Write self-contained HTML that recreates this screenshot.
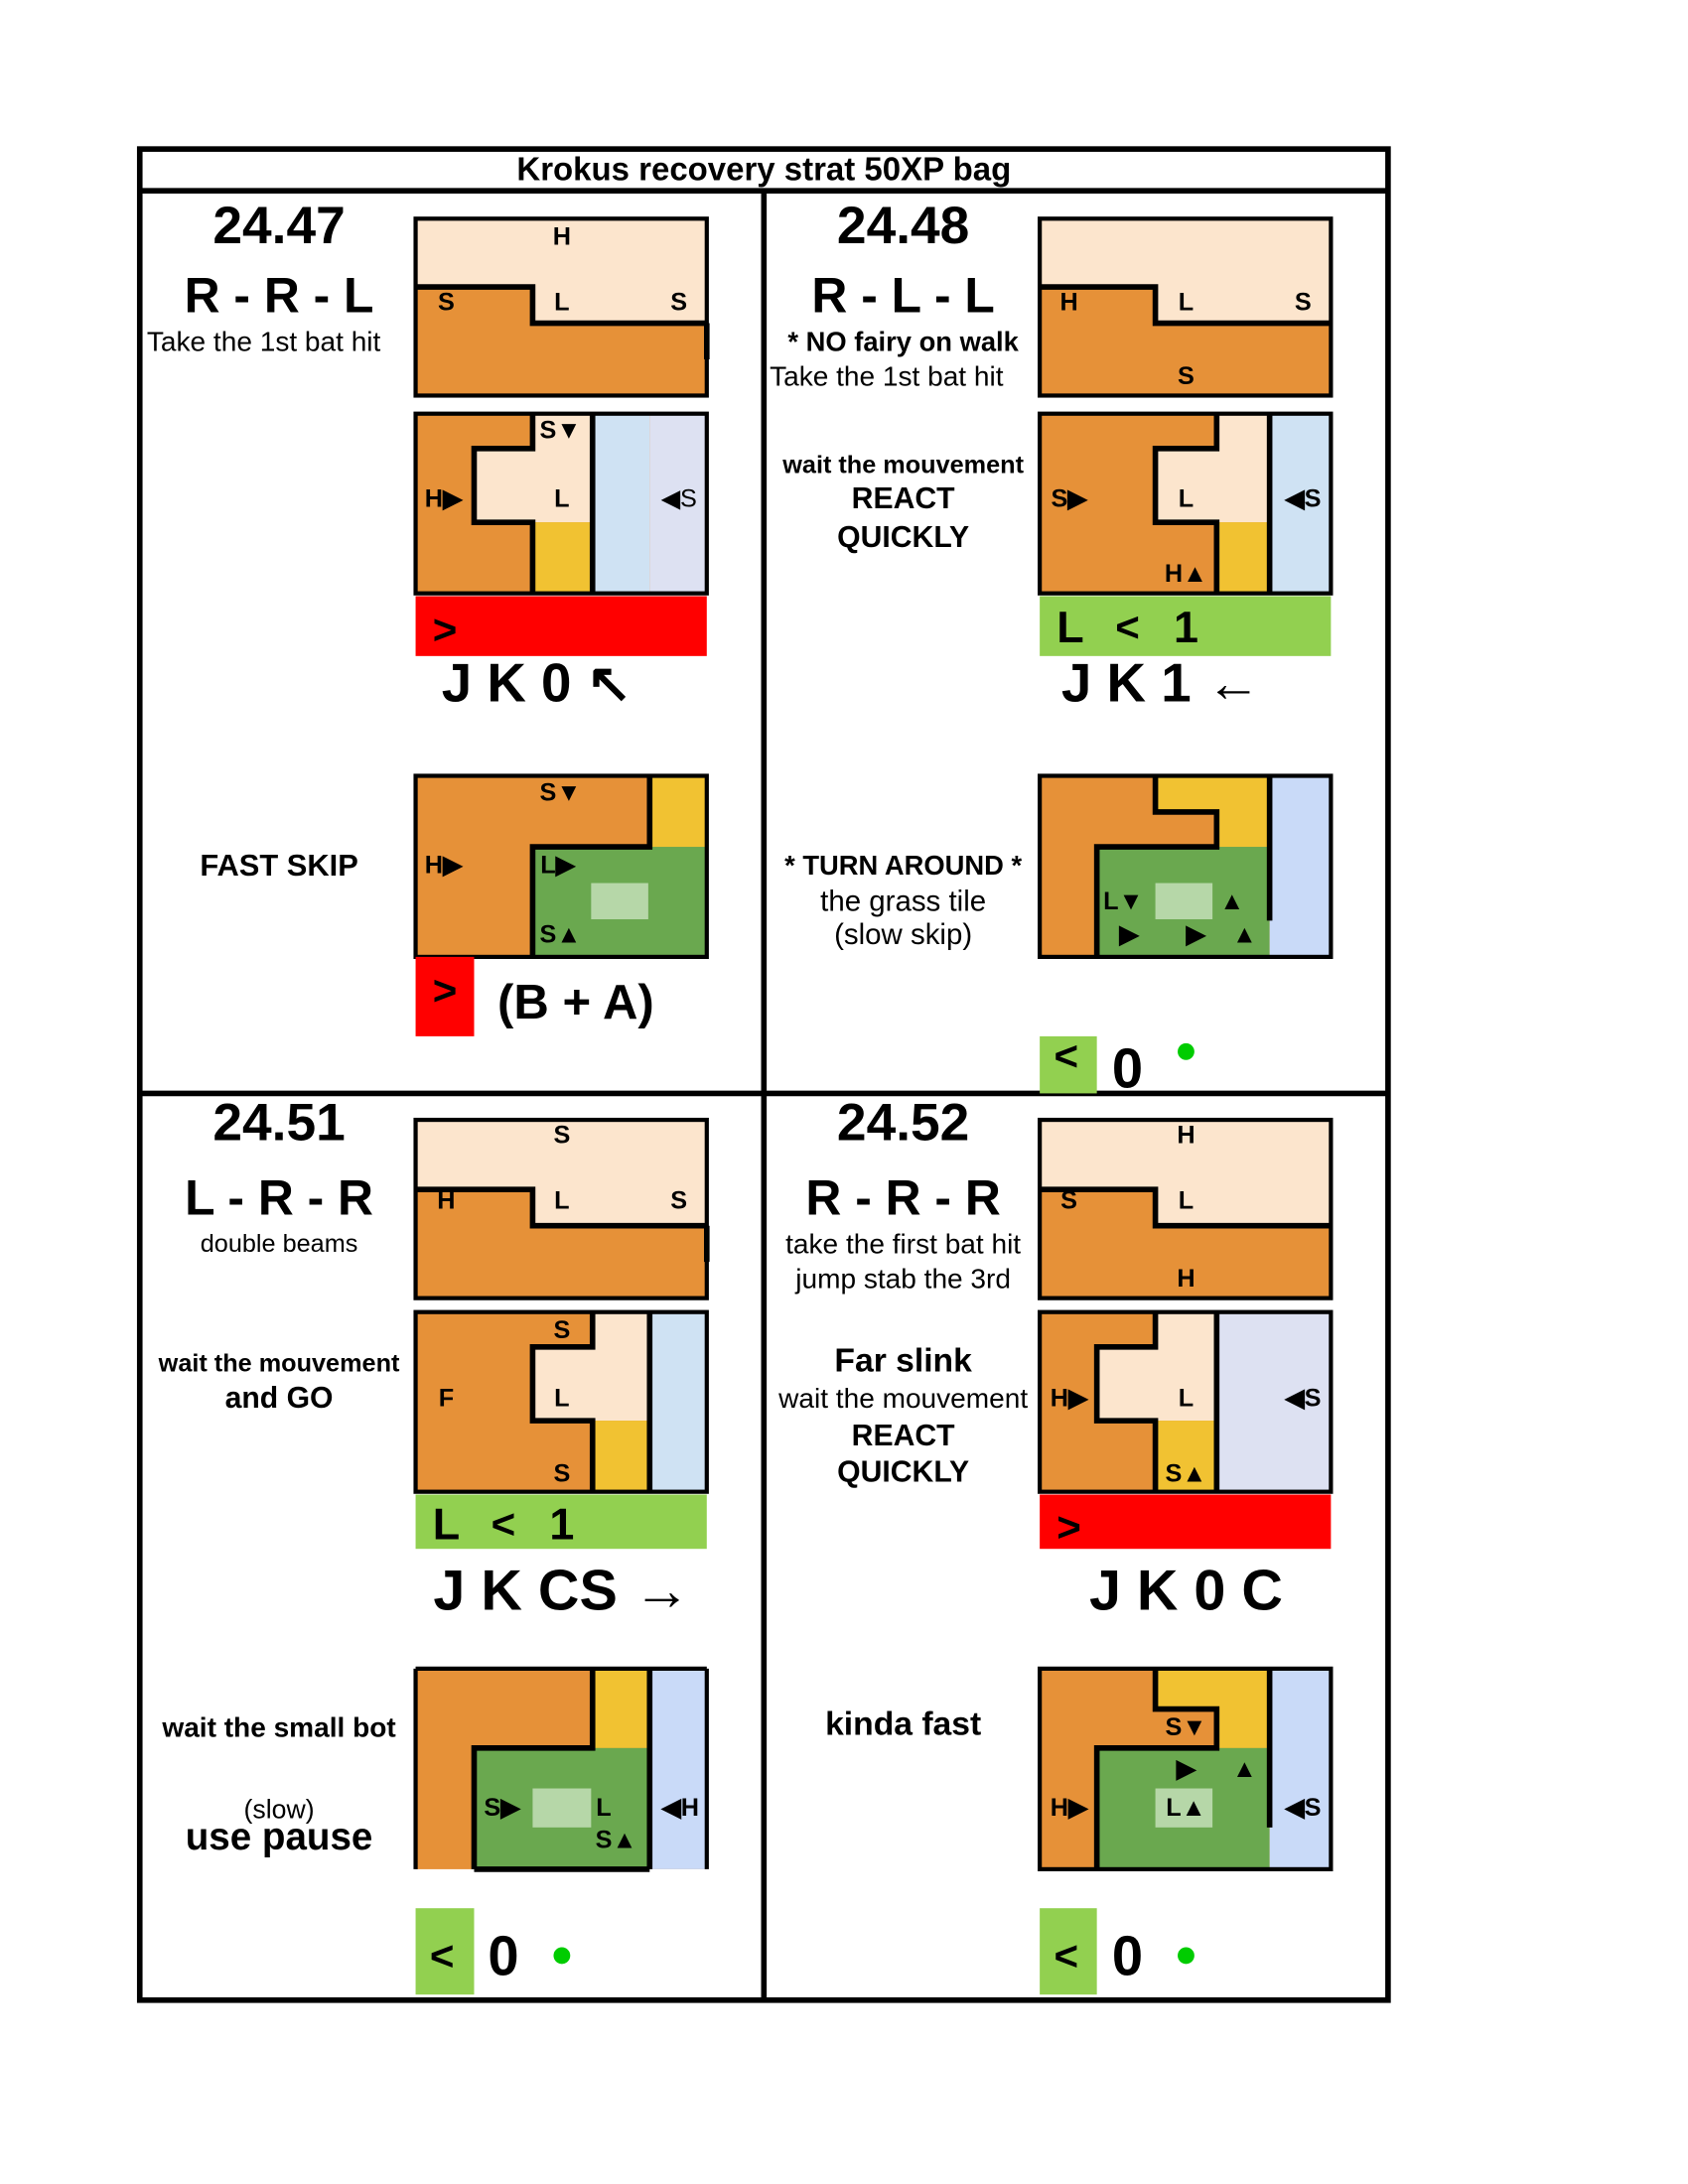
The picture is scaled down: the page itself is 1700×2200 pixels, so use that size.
<!DOCTYPE html>
<html><head><meta charset="utf-8"><style>
html,body{margin:0;padding:0;background:#fff;}
svg{display:block;}
text{font-family:"Liberation Sans",Arial,sans-serif;dominant-baseline:central;text-anchor:middle;}
.b{font-weight:bold;}
.lb{font-weight:bold;font-size:18px;}
</style></head><body>
<svg width="1700" height="2200" viewBox="0 0 1211 1568" xmlns="http://www.w3.org/2000/svg">
<rect width="1211" height="1568" fill="#fff"/>
<rect x="100" y="107" width="896" height="1329" fill="none" stroke="#000" stroke-width="4"/>
<line x1="100" y1="137" x2="996" y2="137" stroke="#000" stroke-width="4"/>
<line x1="548" y1="137" x2="548" y2="1436" stroke="#000" stroke-width="4"/>
<line x1="100" y1="785" x2="996" y2="785" stroke="#000" stroke-width="4"/>
<text x="548" y="121" class="b" font-size="23.5">Krokus recovery strat 50XP bag</text>

<!-- PANEL 1 -->
<text x="200" y="162" class="b" font-size="38">24.47</text>
<text x="200" y="212" class="b" font-size="35.5">R - R - L</text>
<text x="189" y="245" font-size="20">Take the 1st bat hit</text>
<text x="200" y="621" class="b" font-size="22">FAST SKIP</text>
<rect x="298" y="157" width="209" height="127" fill="#e69138"/>
<polygon points="298,157 507,157 507,232 382,232 382,206 298,206" fill="#fce5cd"/>
<polyline points="298,206 382,206 382,232 507,232" fill="none" stroke="#000" stroke-width="4"/>
<line x1="507" y1="232" x2="507" y2="258" stroke="#000" stroke-width="4"/>
<rect x="298" y="157" width="209" height="127" fill="none" stroke="#000" stroke-width="3"/>
<text x="403" y="170" class="lb">H</text><text x="320" y="217" class="lb">S</text><text x="403" y="217" class="lb">L</text><text x="487" y="217" class="lb">S</text>
<rect x="298" y="297" width="209" height="129" fill="#e69138"/>
<polygon points="382,297 425,297 425,375 382,375 340,375 340,322 382,322" fill="#fce5cd"/>
<rect x="382" y="375" width="43" height="51" fill="#f1c232"/>
<rect x="425" y="297" width="41" height="129" fill="#cfe2f3"/>
<rect x="466" y="297" width="41" height="129" fill="#dde1f2"/>
<polyline points="382,297 382,322 340,322 340,375 382,375 382,426" fill="none" stroke="#000" stroke-width="4"/>
<line x1="425" y1="297" x2="425" y2="426" stroke="#000" stroke-width="4"/>
<rect x="298" y="297" width="209" height="129" fill="none" stroke="#000" stroke-width="3"/>
<text x="402" y="309" class="lb">S▼</text><text x="318" y="358" class="lb">H▶</text><text x="403" y="358" class="lb">L</text><text x="487" y="358" font-size="18">◀S</text>
<rect x="298" y="428" width="209" height="43" fill="#ff0000"/>
<text x="319" y="452" class="b" font-size="30">&gt;</text>
<text x="385" y="490" class="b" font-size="39">J K 0 ↖</text>
<rect x="298" y="557" width="209" height="130" fill="#e69138"/>
<rect x="466" y="557" width="41" height="51" fill="#f1c232"/>
<rect x="382" y="608" width="125" height="79" fill="#6aa84f"/>
<rect x="424" y="634" width="41" height="26" fill="#b6d7a8"/>
<polyline points="382,687 382,608 466,608 466,557" fill="none" stroke="#000" stroke-width="4"/>
<rect x="298" y="557" width="209" height="130" fill="none" stroke="#000" stroke-width="3"/>
<text x="402" y="569" class="lb">S▼</text><text x="318" y="621" class="lb">H▶</text><text x="400" y="621" class="lb">L▶</text><text x="402" y="671" class="lb">S▲</text>
<rect x="298" y="687" width="42" height="57" fill="#ff0000"/>
<text x="319" y="711" class="b" font-size="30">&gt;</text>
<text x="413" y="720" class="b" font-size="35">(B + A)</text>

<!-- PANEL 2 -->
<text x="648" y="162" class="b" font-size="38">24.48</text>
<text x="648" y="212" class="b" font-size="35.5">R - L - L</text>
<text x="648" y="245" class="b" font-size="19.5">* NO fairy on walk</text>
<text x="636" y="270" font-size="20">Take the 1st bat hit</text>
<text x="648" y="334" class="b" font-size="18">wait the mouvement</text>
<text x="648" y="358" class="b" font-size="21.5">REACT</text>
<text x="648" y="386" class="b" font-size="21.5">QUICKLY</text>
<text x="648" y="621" class="b" font-size="19.5">* TURN AROUND *</text>
<text x="648" y="647" font-size="21">the grass tile</text>
<text x="648" y="671" font-size="21">(slow skip)</text>
<rect x="746" y="157" width="209" height="127" fill="#e69138"/>
<polygon points="746,157 955,157 955,232 829,232 829,206 746,206" fill="#fce5cd"/>
<polyline points="746,206 829,206 829,232 955,232" fill="none" stroke="#000" stroke-width="4"/>
<rect x="746" y="157" width="209" height="127" fill="none" stroke="#000" stroke-width="3"/>
<text x="767" y="217" class="lb">H</text><text x="851" y="217" class="lb">L</text><text x="935" y="217" class="lb">S</text><text x="851" y="270" class="lb">S</text>
<rect x="746" y="297" width="209" height="129" fill="#e69138"/>
<polygon points="873,297 911,297 911,375 829,375 829,322 873,322" fill="#fce5cd"/>
<rect x="873" y="375" width="38" height="51" fill="#f1c232"/>
<rect x="911" y="297" width="44" height="129" fill="#cfe2f3"/>
<polyline points="873,297 873,322 829,322 829,375 873,375 873,426" fill="none" stroke="#000" stroke-width="4"/>
<line x1="911" y1="297" x2="911" y2="426" stroke="#000" stroke-width="4"/>
<rect x="746" y="297" width="209" height="129" fill="none" stroke="#000" stroke-width="3"/>
<text x="767" y="358" class="lb">S▶</text><text x="851" y="358" class="lb">L</text><text x="935" y="358" class="lb">◀S</text><text x="851" y="412" class="lb">H▲</text>
<rect x="746" y="428" width="209" height="43" fill="#92d050"/>
<text x="768" y="450" class="b" font-size="32">L</text><text x="809" y="450" class="b" font-size="30">&lt;</text><text x="851" y="450" class="b" font-size="32">1</text>
<text x="833" y="490" class="b" font-size="39">J K 1 ←</text>
<rect x="746" y="557" width="209" height="130" fill="#e69138"/>
<polygon points="829,557 911,557 911,608 873,608 873,583 829,583" fill="#f1c232"/>
<rect x="787" y="608" width="124" height="79" fill="#6aa84f"/>
<rect x="911" y="557" width="44" height="130" fill="#c9daf8"/>
<rect x="829" y="634" width="41" height="26" fill="#b6d7a8"/>
<polyline points="829,557 829,583 873,583 873,608 787,608 787,687" fill="none" stroke="#000" stroke-width="4"/>
<line x1="911" y1="557" x2="911" y2="661" stroke="#000" stroke-width="4"/>
<rect x="746" y="557" width="209" height="130" fill="none" stroke="#000" stroke-width="3"/>
<text x="806" y="647" class="lb">L▼</text><text x="884" y="647" class="lb">▲</text><text x="810" y="671" class="lb">▶</text><text x="858" y="671" class="lb">▶</text><text x="893" y="671" class="lb">▲</text>
<rect x="746" y="744" width="41" height="41" fill="#92d050"/>
<text x="765" y="758" class="b" font-size="30">&lt;</text>
<text x="809" y="767" class="b" font-size="40">0</text>
<circle cx="851" cy="755" r="6" fill="#00cc00"/>

<!-- PANEL 3 -->
<text x="200" y="806" class="b" font-size="38">24.51</text>
<text x="200" y="860" class="b" font-size="35.5">L - R - R</text>
<text x="200" y="893" font-size="18">double beams</text>
<text x="200" y="979" class="b" font-size="18">wait the mouvement</text>
<text x="200" y="1004" class="b" font-size="21.5">and GO</text>
<text x="200" y="1240" class="b" font-size="20">wait the small bot</text>
<text x="200" y="1299" font-size="19">(slow)</text>
<text x="200" y="1319" class="b" font-size="27.5">use pause</text>
<rect x="298" y="804" width="209" height="128" fill="#e69138"/>
<polygon points="298,804 507,804 507,880 382,880 382,854 298,854" fill="#fce5cd"/>
<polyline points="298,854 382,854 382,880 507,880" fill="none" stroke="#000" stroke-width="4"/>
<line x1="507" y1="880" x2="507" y2="906" stroke="#000" stroke-width="4"/>
<rect x="298" y="804" width="209" height="128" fill="none" stroke="#000" stroke-width="3"/>
<text x="403" y="815" class="lb">S</text><text x="320" y="862" class="lb">H</text><text x="403" y="862" class="lb">L</text><text x="487" y="862" class="lb">S</text>
<rect x="298" y="942" width="209" height="129" fill="#e69138"/>
<polygon points="425,942 466,942 466,1020 382,1020 382,967 425,967" fill="#fce5cd"/>
<rect x="425" y="1020" width="41" height="51" fill="#f1c232"/>
<rect x="466" y="942" width="41" height="129" fill="#cfe2f3"/>
<polyline points="425,942 425,967 382,967 382,1020 425,1020 425,1071" fill="none" stroke="#000" stroke-width="4"/>
<line x1="466" y1="942" x2="466" y2="1071" stroke="#000" stroke-width="4"/>
<rect x="298" y="942" width="209" height="129" fill="none" stroke="#000" stroke-width="3"/>
<text x="403" y="955" class="lb">S</text><text x="320" y="1004" class="lb">F</text><text x="403" y="1004" class="lb">L</text><text x="403" y="1058" class="lb">S</text>
<rect x="298" y="1073" width="209" height="39" fill="#92d050"/>
<text x="320" y="1094" class="b" font-size="32">L</text><text x="361" y="1094" class="b" font-size="30">&lt;</text><text x="403" y="1094" class="b" font-size="32">1</text>
<text x="403" y="1142" class="b" font-size="41">J K CS →</text>
<rect x="298" y="1198" width="209" height="144" fill="#e69138"/>
<rect x="425" y="1198" width="41" height="57" fill="#f1c232"/>
<rect x="340" y="1255" width="126" height="87" fill="#6aa84f"/>
<rect x="466" y="1198" width="41" height="144" fill="#c9daf8"/>
<rect x="382" y="1284" width="42" height="28" fill="#b6d7a8"/>
<polyline points="340,1342 340,1255 425,1255 425,1198" fill="none" stroke="#000" stroke-width="4"/>
<line x1="466" y1="1198" x2="466" y2="1342" stroke="#000" stroke-width="4"/>
<line x1="298" y1="1198" x2="507" y2="1198" stroke="#000" stroke-width="3"/>
<line x1="298" y1="1198" x2="298" y2="1342" stroke="#000" stroke-width="3"/>
<line x1="507" y1="1198" x2="507" y2="1342" stroke="#000" stroke-width="3"/>
<line x1="340" y1="1342" x2="466" y2="1342" stroke="#000" stroke-width="4"/>
<text x="360" y="1298" class="lb">S▶</text><text x="433" y="1298" class="lb">L</text><text x="488" y="1298" class="lb">◀H</text><text x="442" y="1321" class="lb">S▲</text>
<rect x="298" y="1370" width="42" height="62" fill="#92d050"/>
<text x="317" y="1404" class="b" font-size="30">&lt;</text>
<text x="361" y="1404" class="b" font-size="40">0</text>
<circle cx="403" cy="1404" r="6" fill="#00cc00"/>

<!-- PANEL 4 -->
<text x="648" y="806" class="b" font-size="38">24.52</text>
<text x="648" y="860" class="b" font-size="35.5">R - R - R</text>
<text x="648" y="893" font-size="20">take the first bat hit</text>
<text x="648" y="918" font-size="20">jump stab the 3rd</text>
<text x="648" y="977" class="b" font-size="24">Far slink</text>
<text x="648" y="1004" font-size="20">wait the mouvement</text>
<text x="648" y="1031" class="b" font-size="21.5">REACT</text>
<text x="648" y="1057" class="b" font-size="21.5">QUICKLY</text>
<text x="648" y="1238" class="b" font-size="24">kinda fast</text>
<rect x="746" y="804" width="209" height="128" fill="#e69138"/>
<polygon points="746,804 955,804 955,880 829,880 829,854 746,854" fill="#fce5cd"/>
<polyline points="746,854 829,854 829,880 955,880" fill="none" stroke="#000" stroke-width="4"/>
<rect x="746" y="804" width="209" height="128" fill="none" stroke="#000" stroke-width="3"/>
<text x="851" y="815" class="lb">H</text><text x="767" y="862" class="lb">S</text><text x="851" y="862" class="lb">L</text><text x="851" y="918" class="lb">H</text>
<rect x="746" y="942" width="209" height="129" fill="#e69138"/>
<polygon points="829,942 873,942 873,1020 787,1020 787,967 829,967" fill="#fce5cd"/>
<rect x="829" y="1020" width="44" height="51" fill="#f1c232"/>
<rect x="873" y="942" width="82" height="129" fill="#dde1f2"/>
<polyline points="829,942 829,967 787,967 787,1020 829,1020 829,1071" fill="none" stroke="#000" stroke-width="4"/>
<line x1="873" y1="942" x2="873" y2="1071" stroke="#000" stroke-width="4"/>
<rect x="746" y="942" width="209" height="129" fill="none" stroke="#000" stroke-width="3"/>
<text x="767" y="1004" class="lb">H▶</text><text x="851" y="1004" class="lb">L</text><text x="935" y="1004" class="lb">◀S</text><text x="851" y="1058" class="lb">S▲</text>
<rect x="746" y="1073" width="209" height="39" fill="#ff0000"/>
<text x="767" y="1096" class="b" font-size="30">&gt;</text>
<text x="851" y="1142" class="b" font-size="41">J K 0 C</text>
<rect x="746" y="1198" width="209" height="144" fill="#e69138"/>
<polygon points="829,1198 911,1198 911,1255 873,1255 873,1227 829,1227" fill="#f1c232"/>
<rect x="787" y="1255" width="124" height="87" fill="#6aa84f"/>
<rect x="911" y="1198" width="44" height="144" fill="#c9daf8"/>
<rect x="829" y="1284" width="41" height="28" fill="#b6d7a8"/>
<polyline points="829,1198 829,1227 873,1227 873,1255 787,1255 787,1342" fill="none" stroke="#000" stroke-width="4"/>
<line x1="911" y1="1198" x2="911" y2="1312" stroke="#000" stroke-width="4"/>
<rect x="746" y="1198" width="209" height="144" fill="none" stroke="#000" stroke-width="3"/>
<text x="851" y="1240" class="lb">S▼</text><text x="851" y="1270" class="lb">▶</text><text x="893" y="1270" class="lb">▲</text>
<text x="767" y="1298" class="lb">H▶</text><text x="851" y="1298" class="lb">L▲</text><text x="935" y="1298" class="lb">◀S</text>
<rect x="746" y="1370" width="41" height="62" fill="#92d050"/>
<text x="765" y="1404" class="b" font-size="30">&lt;</text>
<text x="809" y="1404" class="b" font-size="40">0</text>
<circle cx="851" cy="1404" r="6" fill="#00cc00"/>
</svg>
</body></html>
